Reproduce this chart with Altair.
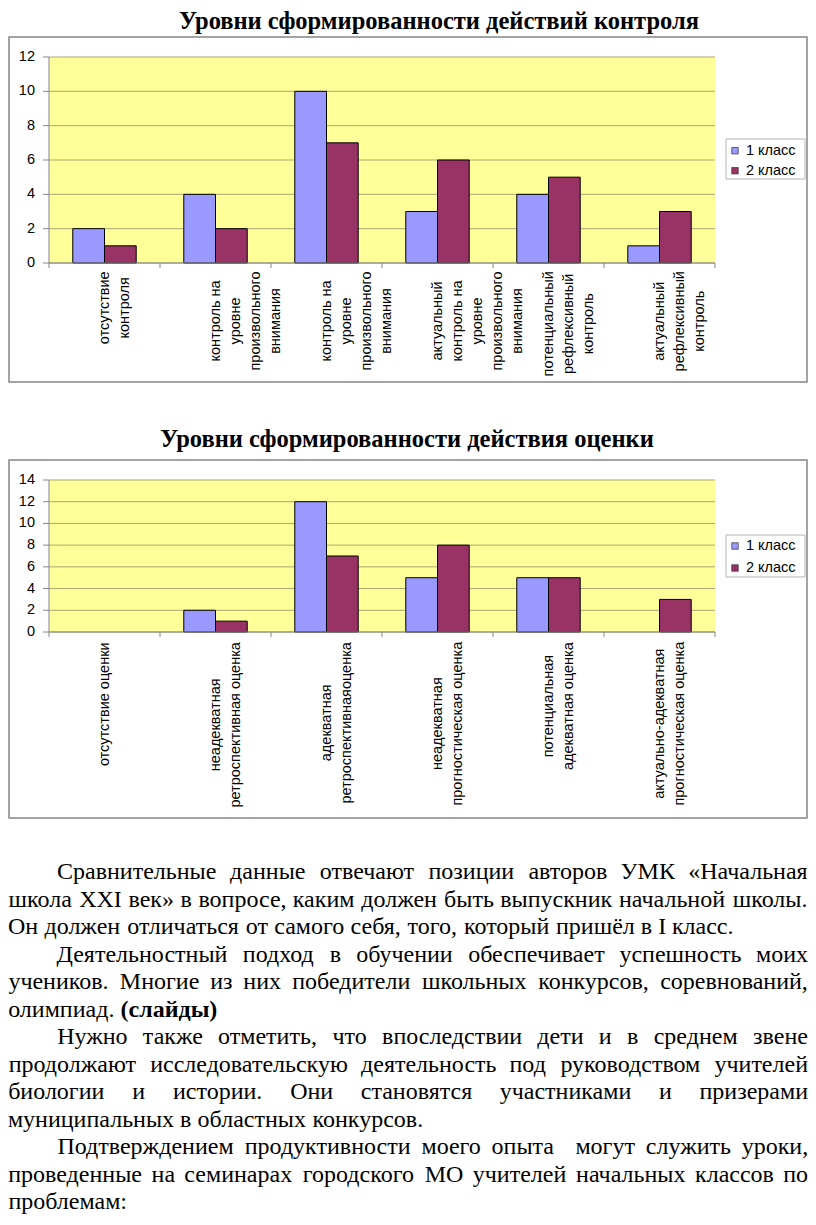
import altair as alt
import pandas as pd

W, H = 800, 1209

# ---------------- data ----------------
series = ["1 класс", "2 класс"]
colors = ["#9999FF", "#993366"]

title1 = "Уровни сформированности действий контроля"
labels1 = [
    "отсутствие\nконтроля",
    "контроль на\nуровне\nпроизвольного\nвнимания",
    "контроль на\nуровне\nпроизвольного\nвнимания",
    "актуальный\nконтроль на\nуровне\nпроизвольного\nвнимания",
    "потенциальный\nрефлексивный\nконтроль",
    "актуальный\nрефлексивный\nконтроль",
]
class1_chart1 = [2, 4, 10, 3, 4, 1]
class2_chart1 = [1, 2, 7, 6, 5, 3]
yticks1 = [0, 2, 4, 6, 8, 10, 12]

title2 = "Уровни сформированности действия оценки"
labels2 = [
    "отсутствие оценки",
    "неадекватная\nретроспективная оценка",
    "адекватная\nретроспективнаяоценка",
    "неадекватная\nпрогностическая оценка",
    "потенциальная\nадекватная оценка",
    "актуально-адекватная\nпрогностическая оценка",
]
class1_chart2 = [0, 2, 12, 5, 5, 0]
class2_chart2 = [0, 1, 7, 8, 5, 3]
yticks2 = [0, 2, 4, 6, 8, 10, 12, 14]

paragraphs = [
    ["Сравнительные данные отвечают позиции авторов УМК «Начальная",
     "школа XXI век» в вопросе, каким должен быть выпускник начальной школы.",
     "Он должен отличаться от самого себя, того, который пришёл в I класс."],
    ["Деятельностный подход в обучении обеспечивает успешность моих",
     "учеников. Многие из них победители школьных конкурсов, соревнований,",
     "олимпиад. (слайды)"],
    ["Нужно также отметить, что впоследствии дети и в среднем звене",
     "продолжают исследовательскую деятельность под руководством учителей",
     "биологии и истории. Они становятся участниками и призерами",
     "муниципальных в областных конкурсов."],
    ["Подтверждением продуктивности моего опыта  могут служить уроки,",
     "проведенные на семинарах городского МО учителей начальных классов по",
     "проблемам:"],
]
bold_words = ["(слайды)"]

# ---------------- font metrics (for text layout only) ----------------
LOW = "абвгдеёжзийклмнопрстуфхцчшщъыьэюя"
UP = "АБВГДЕЁЖЗИЙКЛМНОПРСТУФХЦЧШЩЪЫЬЭЮЯ"
SERIF_W = dict(zip(LOW, [444, 509, 472, 410, 509, 444, 444, 691, 395, 535, 535, 468, 499, 633, 535, 500, 535,
                         500, 444, 437, 500, 648, 500, 535, 503, 770, 770, 517, 672, 456, 429, 747, 460]))
SERIF_W.update(dict(zip(UP, [722, 574, 667, 578, 682, 611, 611, 896, 501, 722, 722, 667, 678, 889, 722, 722, 722,
                             556, 667, 611, 637, 760, 722, 722, 668, 1019, 1019, 706, 888, 574, 661, 1000, 667])))
SERIF_W.update({" ": 250, ",": 250, ".": 250, "«": 500, "»": 500, "(": 333, ")": 333, ":": 278,
                "X": 722, "I": 333, "M": 889})
SANS_W = dict(zip(LOW, [556, 573, 531, 365, 583, 556, 556, 669, 458, 559, 559, 438, 583, 688, 552, 556, 542,
                        556, 500, 458, 500, 823, 500, 573, 521, 802, 823, 625, 719, 521, 510, 750, 542]))
SANS_W.update({" ": 278, "-": 333})

SERIF = "Liberation Serif"
SANS = "Liberation Sans"
BODY_FS = 24
TITLE_FS = 24.5
CH_FS = 14.5


def text_w(s, table, size, factor=1.0):
    return sum(table.get(c, 500) for c in s) / 1000.0 * size * factor


# ---------------- layout constants ----------------
PX0, PX1 = 41, 707          # plot area x-range (both charts)
LBX0, LBX1 = 718, 797       # legend box x-range


def panel(labels, c1, c2, yticks, ymax, frame, plot, lbox, ly, title, tpos, gap):
    ft, fb = frame
    pt, pb = plot
    n = len(labels)
    idx = list(range(n))
    xs = alt.Scale(type="band", domain=idx, range=[PX0, PX1], paddingInner=0, paddingOuter=0)
    ys = alt.Scale(domain=[0, ymax], range=[pb, pt], nice=False, zero=True)
    one = pd.DataFrame({"a": [0]})

    frame_l = alt.Chart(one).mark_rect(fill="white", stroke="#858585", strokeWidth=1.5).encode(
        x=alt.value(1), x2=alt.value(799), y=alt.value(ft), y2=alt.value(fb))
    bg = alt.Chart(one).mark_rect(fill="#FFFF99").encode(
        x=alt.value(PX0), x2=alt.value(PX1), y=alt.value(pt), y2=alt.value(pb))
    gdf = pd.DataFrame({"v": yticks})
    grid = alt.Chart(gdf).mark_rule(color="#A8A870", strokeWidth=1).encode(
        y=alt.Y("v:Q", scale=ys, axis=None), x=alt.value(PX0), x2=alt.value(PX1))

    bdf = pd.DataFrame({
        "i": idx + idx,
        "s": [series[0]] * n + [series[1]] * n,
        "v": list(c1) + list(c2),
    })
    bars = alt.Chart(bdf).transform_filter("datum.v > 0").mark_bar(
        stroke="black", strokeWidth=1).encode(
        x=alt.X("i:O", scale=xs, axis=None),
        xOffset=alt.XOffset("s:N", scale=alt.Scale(domain=series, paddingInner=0, paddingOuter=0.75)),
        y=alt.Y("v:Q", scale=ys, axis=None),
        color=alt.Color("s:N", scale=alt.Scale(domain=series, range=colors), legend=None),
    )
    axl = alt.Chart(one).mark_rule(color="#868686", strokeWidth=1).encode(
        x=alt.value(PX0), y=alt.value(pt), y2=alt.value(pb))
    axb = alt.Chart(one).mark_rule(color="#868686", strokeWidth=1).encode(
        x=alt.value(PX0), x2=alt.value(PX1), y=alt.value(pb))
    yt = alt.Chart(gdf).mark_rule(color="#868686", strokeWidth=1).encode(
        x=alt.value(PX0 - 6), x2=alt.value(PX0), y=alt.Y("v:Q", scale=ys, axis=None))
    ylab = alt.Chart(gdf).mark_text(align="right", baseline="middle", font=SANS, fontSize=CH_FS,
                                    color="black").encode(
        x=alt.value(PX0 - 14), y=alt.Y("v:Q", scale=ys, axis=None), text="v:Q")
    tdf = pd.DataFrame({"b": list(range(n + 1))})
    xt = alt.Chart(tdf).mark_rule(color="#868686", strokeWidth=1).encode(
        x=alt.X("b:Q", scale=alt.Scale(domain=[0, n], range=[PX0, PX1], nice=False, zero=False), axis=None),
        y=alt.value(pb), y2=alt.value(pb + 5))
    ldf = pd.DataFrame({
        "i": idx,
        "t": labels,
        "ly": [pb + gap + max(text_w(l, SANS_W, CH_FS) for l in t.split("\n")) / 2 for t in labels],
    })
    xlab = alt.Chart(ldf).mark_text(angle=270, align="center", baseline="middle", lineBreak="\n",
                                    lineHeight=20, font=SANS, fontSize=CH_FS, color="black").encode(
        x=alt.X("i:O", scale=xs, axis=None), y=alt.Y("ly:Q", scale=None, axis=None), text="t:N")

    lb0, lb1 = lbox
    lbox_l = alt.Chart(one).mark_rect(fill="white", stroke="#B5B5B5", strokeWidth=1).encode(
        x=alt.value(LBX0), x2=alt.value(LBX1), y=alt.value(lb0), y2=alt.value(lb1))
    sdf = pd.DataFrame({"s": series})
    lys = alt.Scale(domain=series, range=ly, padding=0)
    lsym = alt.Chart(sdf).mark_square(size=42, stroke="#333333", strokeWidth=0.7, opacity=1).encode(
        x=alt.value(LBX0 + 9), y=alt.Y("s:N", scale=lys, axis=None),
        color=alt.Color("s:N", scale=alt.Scale(domain=series, range=colors), legend=None))
    ltxt = alt.Chart(sdf).mark_text(align="left", baseline="middle", font=SANS, fontSize=CH_FS,
                                    color="black").encode(
        x=alt.value(LBX0 + 20), y=alt.Y("s:N", scale=lys, axis=None), text="s:N")

    ttl = alt.Chart(pd.DataFrame({"t": [title]})).mark_text(
        font=SERIF, fontWeight="bold", fontSize=TITLE_FS, align="center", baseline="alphabetic",
        color="black").encode(x=alt.value(tpos[0]), y=alt.value(tpos[1]), text="t:N")

    return [frame_l, bg, grid, bars, axl, axb, yt, ylab, xt, xlab, lbox_l, lsym, ltxt, ttl]


layers = []
layers += panel(labels1, class1_chart1, class2_chart1, yticks1, 12,
                frame=(29, 374), plot=(49, 255), lbox=(131, 171), ly=[142.7, 162.7],
                title=title1, tpos=(431, 21), gap=8)
layers += panel(labels2, class1_chart2, class2_chart2, yticks2, 14,
                frame=(452, 810), plot=(472, 624), lbox=(527, 569), ly=[538, 560],
                title=title2, tpos=(399, 439), gap=10)

# ---------------- justified body text ----------------
INDENT = 49
rows = []
line_no = 0
for para in paragraphs:
    for k, line in enumerate(para):
        left = INDENT if k == 0 else 0
        words = line.split(" ")
        isb = [w in bold_words for w in words]
        widths = [text_w(w, SERIF_W, BODY_FS, 1.07 if b else 1.0) for w, b in zip(words, isb)]
        last = k == len(para) - 1
        if last or len(words) == 1:
            g = SERIF_W[" "] * BODY_FS / 1000.0
        else:
            g = (W - left - sum(widths)) / (len(words) - 1)
        xpos = left
        for w, wd, b in zip(words, widths, isb):
            if w:
                rows.append({"line": line_no, "word": w, "x": xpos + wd / 2, "bold": b})
            xpos += wd + g
        line_no += 1
wdf = pd.DataFrame(rows)
n_lines = line_no
ybody = alt.Scale(domain=[0, n_lines - 1], range=[871, 871 + (n_lines - 1) * 27.5], nice=False, zero=False)
xbody = alt.Scale(domain=[0, W], range=[0, W], nice=False, zero=False)
for bold in (False, True):
    layers.append(
        alt.Chart(wdf).transform_filter(f"datum.bold == {str(bold).lower()}").mark_text(
            font=SERIF, fontSize=BODY_FS, fontWeight="bold" if bold else "normal",
            align="center", baseline="alphabetic", color="black").encode(
            x=alt.X("x:Q", scale=xbody, axis=None),
            y=alt.Y("line:Q", scale=ybody, axis=None),
            text="word:N")
    )

chart = alt.layer(*layers).resolve_scale(
    x="independent", y="independent", xOffset="independent", color="independent"
).properties(
    width=W, height=H, padding=0, autosize=alt.AutoSizeParams(type="none")
).configure_view(stroke=None)

chart.save("out.html", embed_options={"renderer": "svg", "actions": False})
